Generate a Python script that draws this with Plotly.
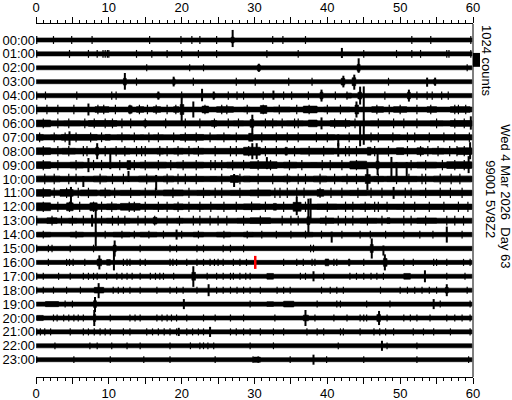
import plotly.graph_objects as go

# ---------------- data ----------------
hour_labels = ["00:00", "01:00", "02:00", "03:00", "04:00", "05:00", "06:00", "07:00",
               "08:00", "09:00", "10:00", "11:00", "12:00", "13:00", "14:00", "15:00",
               "16:00", "17:00", "18:00", "19:00", "20:00", "21:00", "22:00", "23:00"]
minute_ticks = [0, 5, 10, 15, 20, 25, 30, 35, 40, 45, 50, 55, 60]
minute_tick_text = ["0", "", "10", "", "20", "", "30", "", "40", "", "50", "", "60"]

COUNTS_PER_ROW = 1024          # one row spacing = scale bar = 1024 counts
trace_start = 0.05
trace_end = 59.85
current_minute = 30.1          # red marker, row 16
current_row = 16

# half-thickness of each hour's background trace (counts)
baseline_half = [150, 150, 145, 150, 160, 180, 195, 195, 210, 205, 200, 200,
                 200, 185, 165, 160, 150, 150, 150, 150, 150, 150, 150, 150]
# typical half-height of small whiskers per hour (counts)
whisker_counts = [290, 290, 260, 290, 300, 350, 360, 360, 380, 380, 380, 380,
                  380, 360, 290, 280, 260, 260, 260, 260, 260, 260, 250, 250]

# small whiskers, minutes, per hour
whisker_min = [
    [0.1, 2.4, 4.9, 7.7, 15.6, 19.9, 21.4, 22.5, 24.8, 32.5, 33.9, 37.0, 51.6, 54.2, 59.7],
    [0.1, 4.6, 7.2, 8.4, 9.2, 9.5, 9.8, 10.0, 13.8, 15.9, 18.0, 20.0, 22.3, 24.8, 31.7, 36.0,
     45.0, 49.5, 51.6, 52.8, 56.4, 56.7, 59.7],
    [15.2, 21.1, 23.0, 59.2],
    [13.8, 21.6, 27.5, 30.1, 34.7, 37.9, 48.4],
    [0.1, 1.3, 5.6, 10.4, 11.0, 20.0, 26.4, 27.6, 28.5, 31.2, 34.0, 35.1, 37.4, 41.1, 42.7,
     47.9, 52.3, 53.7, 54.4, 55.7, 56.6],
    [0.1, 1.5, 3.0, 5.2, 8.5, 9.3, 10.9, 12.9, 14.2, 15.3, 16.5, 18.0, 19.2, 23.2, 25.5, 26.2,
     29.0, 31.2, 33.4, 35.8, 37.5, 40.0, 41.8, 46.8, 48.5, 50.0, 52.3, 54.2, 57.5, 58.0, 59.0],
    [1.0, 3.0, 4.5, 6.7, 8.0, 9.5, 10.5, 11.8, 13.0, 15.0, 17.8, 20.5, 22.5, 24.5, 26.4,
     27.8, 31.5, 32.5, 33.8, 35.5, 36.0, 41.0, 42.5, 43.8, 45.0, 47.0, 49.1, 50.5, 52.3,
     55.0, 57.5, 58.8],
    [0.5, 2.5, 4.0, 5.5, 7.5, 9.0, 11.8, 13.5, 15.5, 16.8, 18.9, 20.5, 22.0, 23.9, 25.8,
     27.5, 31.0, 33.0, 34.5, 36.0, 38.5, 40.0, 43.0, 46.0, 47.0, 49.0, 51.0, 52.0, 54.0,
     56.0, 57.5, 59.5],
    [1.0, 3.0, 4.5, 6.5, 7.0, 9.5, 11.0, 12.2, 13.8, 14.5, 15.0, 17.0, 18.0, 19.5, 21.0,
     22.3, 24.6, 26.7, 27.5, 29.2, 31.5, 33.0, 35.5, 37.5, 39.5, 42.5, 43.0, 44.0, 46.5,
     48.4, 51.0, 52.8, 53.8, 55.2, 56.8, 57.8, 58.8],
    [1.0, 3.0, 5.5, 7.9, 9.0, 11.5, 13.5, 15.0, 16.8, 18.5, 20.2, 22.0, 24.0, 24.6, 25.5,
     27.0, 28.5, 30.5, 32.2, 34.8, 36.5, 39.3, 40.4, 42.0, 44.0, 51.5, 53.5, 55.8, 57.5, 58.8],
    [1.2, 2.5, 4.5, 5.5, 8.8, 10.5, 12.0, 15.2, 18.0, 19.5, 20.5, 22.0, 25.5, 28.0, 30.5,
     32.5, 34.5, 36.0, 37.0, 39.0, 41.0, 42.7, 44.0, 47.0, 49.5, 51.2, 53.0, 53.5, 55.5,
     57.0, 58.2],
    [1.0, 2.5, 4.2, 5.8, 7.2, 9.5, 10.8, 13.0, 15.0, 16.4, 18.8, 21.0, 23.0, 24.6, 25.5,
     28.0, 30.5, 32.8, 33.5, 34.5, 35.8, 36.8, 39.0, 40.5, 42.0, 44.2, 46.0, 47.5, 50.7,
     51.5, 53.5, 55.5, 56.9, 58.5],
    [1.0, 3.0, 4.6, 6.0, 7.9, 9.0, 10.4, 12.8, 13.5, 15.0, 16.8, 18.0, 19.5, 21.0, 22.5,
     24.0, 25.8, 27.5, 29.6, 31.5, 34.0, 37.0, 40.0, 42.5, 43.5, 45.2, 46.5, 47.0, 48.2,
     50.5, 52.0, 54.0, 56.0, 58.0, 59.3],
    [0.1, 2.2, 3.5, 5.0, 6.5, 9.0, 10.5, 11.3, 12.2, 14.0, 15.0, 16.3, 18.0, 19.7, 21.6,
     22.5, 23.9, 25.0, 26.2, 28.5, 30.8, 33.8, 35.0, 36.0, 39.8, 41.5, 42.5, 43.5, 45.5,
     47.5, 50.5, 51.5, 53.5, 56.4, 57.5, 58.7],
    [1.0, 5.5, 8.2, 9.5, 11.8, 13.5, 15.5, 17.5, 20.0, 22.3, 25.8, 29.0, 31.0, 33.0, 35.0,
     37.0, 39.2, 42.0, 44.5, 45.9, 48.0, 50.5, 52.7, 54.5, 58.5],
    [0.1, 1.7, 2.2, 4.7, 7.9, 14.3, 18.4, 19.3, 22.1, 23.0, 25.7, 26.7, 28.5, 37.7, 38.1],
    [1.7, 4.2, 4.6, 5.1, 6.7, 12.0, 12.5, 12.9, 14.3, 15.0, 18.4, 18.8, 19.3, 20.7, 22.1,
     23.0, 23.9, 24.5, 25.0, 25.7, 27.1, 28.0, 28.9, 34.0, 35.8, 36.7, 37.9, 38.3, 40.9,
     41.3, 45.0, 50.5, 51.8, 54.6, 55.0, 56.4, 58.7, 59.6],
    [0.1, 1.0, 3.1, 4.7, 6.5, 7.2, 7.9, 8.4, 9.7, 11.1, 11.8, 12.5, 13.2, 14.3, 15.7, 16.4,
     17.0, 17.5, 18.9, 23.5, 24.8, 25.7, 26.7, 27.1, 28.0, 28.8, 29.4, 36.3, 37.0, 39.5,
     43.1, 44.0, 45.0, 46.0, 46.8, 47.7, 56.4, 58.9],
    [0.1, 1.0, 2.4, 4.2, 6.1, 10.6, 11.3, 12.0, 12.9, 14.3, 16.6, 18.4, 19.3, 20.2, 22.1,
     24.8, 25.7, 26.7, 27.6, 28.5, 29.4, 30.8, 33.1, 34.0, 34.9, 39.2, 40.4, 41.3, 42.2,
     47.3, 50.0, 51.0, 52.0, 53.0, 54.0, 55.0, 59.2],
    [4.0, 5.0, 29.4, 38.6, 41.3, 41.8, 45.4, 48.6, 55.5, 59.6],
    [2.4, 2.9, 3.8, 4.5, 5.2, 5.8, 6.5, 10.2, 12.9, 13.6, 14.3, 16.6, 17.3, 18.0, 18.6,
     19.3, 20.7, 23.0, 24.6, 26.7, 28.5, 32.8, 38.3, 40.9, 42.7, 44.5, 45.0, 45.4, 48.2,
     50.5, 51.4, 52.3, 54.1, 56.4, 57.5, 58.5, 59.6],
    [0.1, 0.6, 1.2, 2.0, 4.7, 6.5, 7.2, 8.0, 8.8, 9.5, 10.2, 12.0, 12.9, 15.2, 16.0, 16.8,
     17.6, 18.4, 19.3, 20.7, 21.5, 22.3, 23.0, 26.7, 27.5, 28.5, 29.4, 30.8, 32.6, 34.0,
     37.2, 38.6, 39.5, 41.8, 42.2, 44.5, 46.4, 47.2, 48.0, 49.1, 51.8, 53.2, 54.6, 56.9, 59.6],
    [2.6, 7.4, 8.4, 10.4, 12.5, 14.3, 18.4, 21.2, 22.5, 23.0, 23.6, 24.4, 29.4, 32.6, 41.5,
     48.2, 52.3],
    [0.1, 5.2, 10.2, 14.8, 18.4, 24.6, 29.8, 30.5, 34.9, 39.9, 45.0, 52.3, 59.4],
]

# larger events: hour row, minute, upward and downward extent (counts)
event_row = [0, 1, 2, 2, 3, 3, 3, 3, 3, 3,
             4, 4, 4, 4, 4, 4, 4,
             5, 5, 5, 5, 5,
             6, 6, 6,
             7, 7, 7,
             8, 8, 8, 8, 8,
             9, 9, 9, 9, 9, 9, 9, 9,
             10, 10, 10, 10, 10,
             11, 11,
             12, 12,
             13, 13, 13,
             14, 14, 14,
             15, 15, 15,
             16, 16, 16,
             17, 17, 17,
             18, 18, 18,
             19, 19, 19,
             20, 20, 20,
             21, 21,
             22,
             23]
event_min = [27.0, 42.0, 30.6, 44.3, 12.2, 18.9, 42.2, 43.7, 53.7, 54.8,
             16.8, 22.8, 24.4, 32.6, 39.2, 44.5, 51.2,
             7.2, 20.0, 21.6, 44.0, 45.0,
             29.7, 39.2, 59.7,
             4.6, 41.5, 44.5,
             8.4, 29.7, 30.3, 41.5, 59.6,
             7.2, 10.2, 31.7, 46.9, 48.8, 49.5, 50.9, 59.4,
             6.5, 12.7, 16.5, 27.2, 45.5,
             4.8, 49.1,
             35.8, 37.7,
             7.7, 8.2, 37.4,
             19.3, 40.6, 56.4,
             10.8, 46.1, 47.7,
             8.7, 10.7, 47.9,
             21.6, 38.1, 53.4,
             8.6, 23.7, 56.4,
             8.1, 20.3, 54.6,
             8.0, 37.0, 47.1,
             23.9, 19.6,
             47.5,
             38.1]
event_up = [740, 440, 300, 700, 640, 370, 440, 520, 300, 300,
            300, 500, 300, 370, 440, 660, 440,
            440, 960, 590, 590, 1700,
            640, 440, 520,
            440, 220, 900,
            590, 590, 590, 590, 660,
            520, 880, 590, 880, 600, 220, 220, 660,
            220, 590, 300, 370, 790,
            440, 440,
            740, 620,
            440, 790, 1620,
            370, 220, 590,
            590, 740, 220,
            520, 1000, 590,
            740, 370, 440,
            520, 440, 440,
            520, 370, 370,
            590, 590, 520,
            370, 300,
            370,
            370]
event_down = [520, 300, 300, 370, 590, 350, 420, 590, 370, 300,
              300, 420, 300, 300, 440, 660, 440,
              440, 1000, 590, 590, 2600,
              810, 440, 460,
              590, 660, 660,
              590, 590, 590, 400, 590,
              520, 300, 300, 740, 860, 860, 860, 590,
              590, 220, 810, 590, 810,
              880, 440,
              620, 960,
              440, 1900, 940,
              370, 590, 590,
              590, 740, 520,
              520, 590, 590,
              780, 370, 440,
              590, 440, 440,
              590, 370, 370,
              590, 590, 520,
              370, 300,
              370,
              370]

# bursts of elevated signal: hour row, start minute, end minute, half-amplitude of core (counts)
burst_row = [0, 2, 2, 3, 3, 3, 3, 3,
             4, 4, 4, 4, 4, 4,
             5, 5, 5, 5, 5, 5, 5, 5, 5, 5, 5, 5, 5, 5, 5, 5, 5, 5,
             6, 6, 6, 6, 6, 6, 6, 6, 6, 6, 6, 6, 6, 6, 6,
             7, 7, 7, 7, 7, 7, 7, 7, 7, 7, 7, 7, 7,
             8, 8, 8, 8, 8, 8, 8, 8, 8, 8, 8, 8, 8, 8, 8, 8,
             9, 9, 9, 9, 9, 9, 9, 9, 9, 9, 9, 9, 9,
             10, 10, 10, 10, 10, 10, 10, 10, 10, 10, 10, 10, 10, 10, 10, 10,
             11, 11, 11, 11, 11, 11, 11, 11, 11, 11, 11, 11,
             12, 12, 12, 12, 12, 12, 12, 12, 12, 12, 12, 12, 12, 12, 12,
             13, 13, 13, 13, 13, 13, 13, 13, 13, 13, 13, 13,
             14, 14, 14, 14, 14, 14, 14, 14,
             15, 15,
             16, 16, 16, 16, 16,
             17, 17, 17,
             18, 18,
             19, 19, 19, 19,
             20, 20, 20, 20,
             23]
burst_start = [26.8, 30.4, 44.1, 12.0, 18.8, 41.9, 43.4, 54.6,
               16.6, 24.3, 39.0, 44.2, 51.0, 42.6,
               8.1, 12.7, 13.8, 16.1, 18.9, 19.8, 22.8, 24.8, 28.5, 30.8, 32.6, 36.7, 39.5, 43.8, 46.1, 49.1, 53.7, 56.9,
               0.05, 3.8, 7.2, 14.8, 17.5, 24.1, 27.1, 29.4, 30.8, 34.4, 37.4, 40.4, 45.9, 54.1, 56.9,
               0.05, 2.0, 3.5, 9.5, 11.1, 14.3, 16.1, 19.8, 24.8, 29.2, 30.0, 45.0, 52.0,
               0.05, 3.6, 8.2, 10.2, 16.6, 18.9, 21.6, 28.5, 34.2, 36.3, 45.5, 47.0, 49.5, 52.3, 54.4, 57.8,
               0.05, 4.7, 12.5, 14.3, 19.3, 26.2, 29.4, 34.0, 37.7, 43.1, 46.7, 52.3, 56.4,
               0.05, 7.9, 14.1, 17.5, 21.2, 23.9, 26.7, 28.5, 29.4, 34.0, 38.1, 42.0, 45.2, 46.4, 48.2, 54.6,
               0.05, 3.3, 6.1, 8.8, 11.6, 17.5, 22.1, 26.7, 29.4, 38.6, 43.1, 52.7,
               0.05, 4.2, 7.4, 9.7, 11.6, 16.1, 18.9, 22.1, 24.8, 28.5, 32.6, 35.3, 38.6, 44.5, 49.5,
               1.5, 4.5, 9.7, 16.1, 19.3, 27.6, 29.4, 37.2, 39.0, 44.5, 48.2, 52.3,
               0.1, 4.7, 10.6, 14.3, 21.6, 24.8, 28.5, 29.8,
               10.6, 45.9,
               8.4, 9.7, 39.7, 42.9, 47.7,
               21.4, 31.7, 50.5,
               8.0, 56.2,
               1.3, 7.9, 31.7, 34.0,
               0.1, 7.9, 36.7, 46.8,
               29.9]
burst_end = [27.2, 30.8, 44.5, 12.4, 19.1, 42.4, 43.9, 54.9,
             17.0, 24.6, 39.4, 44.7, 51.4, 43.3,
             10.0, 13.2, 14.8, 17.1, 19.6, 20.3, 23.7, 27.1, 29.4, 31.7, 34.9, 38.6, 43.1, 44.3, 47.7, 50.9, 55.0, 59.6,
             2.0, 6.1, 11.1, 15.2, 18.0, 24.8, 28.5, 29.9, 33.1, 36.7, 38.6, 43.1, 48.6, 55.9, 59.8,
             1.0, 2.9, 8.4, 10.2, 12.9, 14.8, 17.5, 23.0, 26.7, 29.8, 41.0, 50.0, 59.6,
             2.0, 5.4, 8.6, 12.9, 17.5, 20.2, 23.0, 30.8, 34.5, 40.9, 46.0, 48.4, 50.5, 53.2, 56.0, 59.8,
             2.0, 6.5, 13.0, 17.9, 23.0, 29.4, 33.1, 35.8, 38.6, 45.4, 47.1, 55.0, 59.8,
             3.3, 9.7, 16.4, 18.9, 23.0, 24.8, 27.8, 29.4, 34.0, 34.9, 39.9, 45.0, 45.9, 47.7, 52.3, 59.8,
             2.0, 5.1, 8.4, 10.2, 14.3, 20.2, 23.9, 29.4, 32.2, 39.5, 45.4, 59.8,
             2.0, 5.1, 8.4, 11.1, 14.3, 17.5, 20.2, 23.0, 26.7, 30.8, 33.0, 36.4, 41.3, 45.9, 59.8,
             2.9, 5.6, 12.9, 16.6, 20.2, 29.4, 32.2, 37.6, 40.9, 46.8, 48.6, 55.0,
             2.0, 6.5, 12.9, 16.6, 23.0, 26.7, 29.8, 38.0,
             11.0, 46.3,
             9.0, 10.2, 40.2, 43.1, 48.2,
             21.9, 32.6, 51.4,
             9.3, 56.6,
             3.1, 8.3, 32.6, 35.4,
             1.0, 8.2, 37.4, 47.3,
             30.8]
burst_amp = [210, 210, 250, 250, 210, 250, 290, 180,
             180, 180, 250, 250, 250, 180,
             210, 270, 210, 210, 210, 370, 250, 210, 170, 290, 170, 250, 170, 330, 210, 210, 210, 210,
             250, 170, 210, 210, 170, 210, 170, 290, 170, 170, 250, 210, 170, 170, 210,
             210, 170, 210, 210, 170, 170, 170, 210, 170, 290, 190, 190, 190,
             250, 210, 290, 210, 210, 210, 210, 290, 290, 210, 290, 210, 250, 250, 210, 250,
             250, 210, 330, 210, 210, 210, 250, 210, 170, 290, 290, 210, 250,
             210, 210, 210, 210, 170, 170, 250, 210, 190, 210, 210, 190, 330, 190, 190, 210,
             250, 250, 210, 210, 170, 210, 170, 170, 210, 250, 170, 170,
             290, 290, 290, 210, 250, 170, 210, 170, 170, 210, 250, 330, 190, 190, 170,
             210, 170, 170, 250, 170, 170, 210, 290, 190, 170, 210, 190,
             170, 170, 170, 170, 170, 170, 170, 165,
             250, 290,
             250, 210, 250, 250, 290,
             290, 210, 210,
             210, 210,
             190, 250, 170, 210,
             190, 250, 210, 250,
             190]

# ---------------- figure ----------------
def yv(row, counts):
    return -row + counts / COUNTS_PER_ROW

# filled bands: background trace of every hour + bursts
fx, fy = [], []
for r in range(len(hour_labels)):
    h = baseline_half[r]
    fx += [trace_start, trace_end, trace_end, trace_start, trace_start, None]
    fy += [yv(r, -h), yv(r, -h), yv(r, h), yv(r, h), yv(r, -h), None]
for r, s, e, a in zip(burst_row, burst_start, burst_end, burst_amp):
    fx += [s, e, e, s, s, None]
    fy += [yv(r, -a), yv(r, -a), yv(r, a), yv(r, a), yv(r, -a), None]

# whiskers
wx, wy = [], []
for r, mins in enumerate(whisker_min):
    a = whisker_counts[r]
    for m in mins:
        wx += [m, m, None]
        wy += [yv(r, -a), yv(r, a), None]

# events
ex, ey = [], []
for r, m, u, d in zip(event_row, event_min, event_up, event_down):
    ex += [m, m, None]
    ey += [yv(r, -d), yv(r, u), None]

fig = go.Figure()
fig.add_trace(go.Scatter(x=fx, y=fy, mode="lines", fill="toself", fillcolor="black",
                         line=dict(color="black", width=0.6), hoverinfo="skip", showlegend=False))
fig.add_trace(go.Scatter(x=wx, y=wy, mode="lines", line=dict(color="black", width=1.2),
                         hoverinfo="skip", showlegend=False))
fig.add_trace(go.Scatter(x=ex, y=ey, mode="lines", line=dict(color="black", width=2),
                         hoverinfo="skip", showlegend=False))
fig.add_trace(go.Scatter(x=[current_minute, current_minute],
                         y=[yv(current_row, -480), yv(current_row, 480)],
                         mode="lines", line=dict(color="#ff0000", width=2.5),
                         xaxis="x2", yaxis="y", hoverinfo="skip", showlegend=False))

FONT = dict(family="Liberation Sans, Arial, sans-serif", size=13, color="black")
axis_common = dict(range=[0, 60], showgrid=False, zeroline=False, showline=True,
                   linecolor="black", linewidth=1, ticks="outside", ticklen=6, tickwidth=1,
                   tickcolor="black", tickmode="array", tickvals=minute_ticks,
                   ticktext=minute_tick_text, tickfont=FONT, automargin=False,
                   minor=dict(dtick=1, tick0=0, ticks="outside", ticklen=3, tickwidth=1,
                              tickcolor="black", showgrid=False))

row_top = 1.151
row_bottom = -24.245

fig.update_layout(
    width=512, height=400,
    margin=dict(l=36, r=39, t=24, b=23, pad=0, autoexpand=False),
    paper_bgcolor="white", plot_bgcolor="white",
    xaxis=dict(side="bottom", ticklabelstandoff=-2, **axis_common),
    xaxis2=dict(side="top", overlaying="x", matches="x", anchor="y", **axis_common),
    yaxis=dict(range=[row_bottom, row_top], showgrid=False, zeroline=False, showline=False,
               tickmode="array", tickvals=[-i for i in range(len(hour_labels))],
               ticktext=hour_labels, ticks="", tickfont=FONT, automargin=False),
    shapes=[
        dict(type="line", xref="paper", yref="paper", x0=1, x1=1, y0=0, y1=1,
             line=dict(color="black", width=1)),
        dict(type="rect", xref="paper", yref="y", x0=1.0, x1=1.016,
             y0=-1.93, y1=-1.93 + 1.0, fillcolor="black", line=dict(width=0)),
    ],
    annotations=[
        dict(text="1024 counts", xref="paper", yref="paper", x=1.032, y=0.895,
             textangle=90, showarrow=False, font=FONT, xanchor="center", yanchor="middle",
             borderpad=0),
        dict(text="Wed 4 Mar 2026  Day 63", xref="paper", yref="paper", x=1.0725, y=0.513,
             textangle=90, showarrow=False, font=FONT, xanchor="center", yanchor="middle",
             borderpad=0),
        dict(text="99001 5V8Z2", xref="paper", yref="paper", x=1.041, y=0.504,
             textangle=90, showarrow=False, font=FONT, xanchor="center", yanchor="middle",
             borderpad=0),
    ],
)

# place the 512x400 figure flush with the window's top-left corner
fig.write_html("out.html", config={"displayModeBar": False},
               post_script="document.body.style.margin='0px';")
